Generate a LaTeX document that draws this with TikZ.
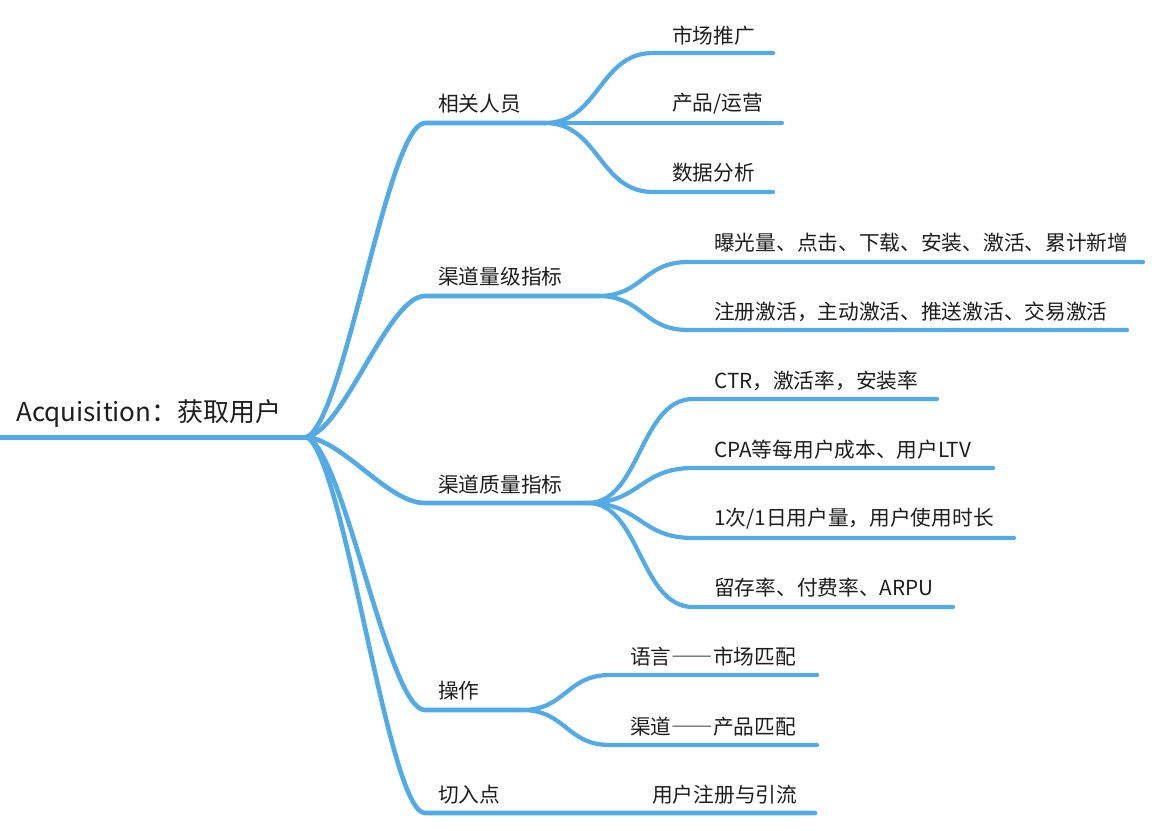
\documentclass[tikz,border=0pt]{standalone}
\usepackage{fontspec}
\setmainfont{Noto Sans CJK SC}
\definecolor{lineblue}{HTML}{52AAE6}
\definecolor{txt}{HTML}{1E1E1E}
\newcommand{\fwdash}{{\addfontfeatures{CharacterWidth=Full}——}}
\tikzset{
  lbl/.style={anchor=west, inner sep=0pt, text=txt, font=\fontsize{20.7}{24}\selectfont},
  rootlbl/.style={anchor=west, inner sep=0pt, text=txt, font=\fontsize{26}{30}\selectfont},
  rootline/.style={draw=lineblue, line width=5pt, line cap=round},
  mainline/.style={draw=lineblue, line width=4.6pt, line cap=round},
  subline/.style={draw=lineblue, line width=4.2pt, line cap=round},
}
\begin{document}
\begin{tikzpicture}[x=1pt,y=-1pt]
\useasboundingbox[fill=white] (0,0) rectangle (1172,830);

% ---------- coordinates ----------
\coordinate (r0) at (-3,437);
\coordinate (r1) at (307,437);
% branch 1
\coordinate (b1s) at (425,123);  \coordinate (b1f) at (545,123);
\coordinate (c11s) at (653,53);  \coordinate (c11e) at (773,53);
\coordinate (c12e) at (782,123);
\coordinate (c13s) at (653,192); \coordinate (c13e) at (773,192);
% branch 2
\coordinate (b2s) at (425,296);  \coordinate (b2f) at (598,296);
\coordinate (c21s) at (688,262); \coordinate (c21e) at (1143,262);
\coordinate (c22s) at (688,330); \coordinate (c22e) at (1127,330);
% branch 3
\coordinate (b3s) at (425,503);  \coordinate (b3f) at (588,503);
\coordinate (c31s) at (693,399); \coordinate (c31e) at (937,399);
\coordinate (c32s) at (693,468); \coordinate (c32e) at (993,468);
\coordinate (c33s) at (693,538); \coordinate (c33e) at (1014,538);
\coordinate (c34s) at (693,607); \coordinate (c34e) at (953,607);
% branch 4
\coordinate (b4s) at (425,710);  \coordinate (b4f) at (522,710);
\coordinate (c41s) at (610,675); \coordinate (c41e) at (817,675);
\coordinate (c42s) at (610,745); \coordinate (c42e) at (817,745);
% branch 5
\coordinate (b5s) at (425,813);  \coordinate (b5e) at (815,813);

% ---------- connectors ----------
\draw[rootline] (r0) -- (r1);
\draw[mainline] (r1) .. controls (345,419) and (388,123) .. (b1s) -- (b1f);
\draw[mainline] (r1) .. controls (345,429) and (388,296) .. (b2s) -- (b2f);
\draw[mainline] (r1) .. controls (345,442) and (388,503) .. (b3s) -- (b3f);
\draw[mainline] (r1) .. controls (345,454) and (388,710) .. (b4s) -- (b4f);
\draw[mainline] (r1) .. controls (345,460) and (388,813) .. (b5s) -- (b5e);

\draw[subline] (b1f) .. controls (599,123) and (599,53) .. (c11s) -- (c11e);
\draw[subline] (b1f) -- (c12e);
\draw[subline] (b1f) .. controls (599,123) and (599,192) .. (c13s) -- (c13e);

\draw[subline] (b2f) .. controls (643,296) and (643,262) .. (c21s) -- (c21e);
\draw[subline] (b2f) .. controls (643,296) and (643,330) .. (c22s) -- (c22e);

\draw[subline] (b3f) .. controls (640,503) and (640,399) .. (c31s) -- (c31e);
\draw[subline] (b3f) .. controls (640,503) and (640,468) .. (c32s) -- (c32e);
\draw[subline] (b3f) .. controls (640,503) and (640,538) .. (c33s) -- (c33e);
\draw[subline] (b3f) .. controls (640,503) and (640,607) .. (c34s) -- (c34e);

\draw[subline] (b4f) .. controls (566,710) and (566,675) .. (c41s) -- (c41e);
\draw[subline] (b4f) .. controls (566,710) and (566,745) .. (c42s) -- (c42e);

% ---------- labels ----------
\node[rootlbl] (root) at (16,413) {Acquisition：获取用户};

\node[lbl] (b1) at (438,104) {相关人员};
\node[lbl] (c11) at (672,36) {市场推广};
\node[lbl] (c12) at (672,104) {产品/运营};
\node[lbl] (c13) at (672,173) {数据分析};

\node[lbl] (b2) at (438,277) {渠道量级指标};
\node[lbl] (c21) at (714,243) {曝光量、点击、下载、安装、激活、累计新增};
\node[lbl] (c22) at (714,312) {注册激活，主动激活、推送激活、交易激活};

\node[lbl] (b3) at (438,485) {渠道质量指标};
\node[lbl] (c31) at (714,381) {CTR，激活率，安装率};
\node[lbl] (c32) at (714,450) {CPA等每用户成本、用户LTV};
\node[lbl] (c33) at (714,519) {1次/1日用户量，用户使用时长};
\node[lbl] (c34) at (714,588) {留存率、付费率、ARPU};

\node[lbl] (b4) at (438,691) {操作};
\node[lbl] (c41) at (630,657) {语言\fwdash 市场匹配};
\node[lbl] (c42) at (630,727) {渠道\fwdash 产品匹配};

\node[lbl] (b5) at (438,795) {切入点};
\node[lbl] (c51) at (652,795) {用户注册与引流};
\end{tikzpicture}
\end{document}
